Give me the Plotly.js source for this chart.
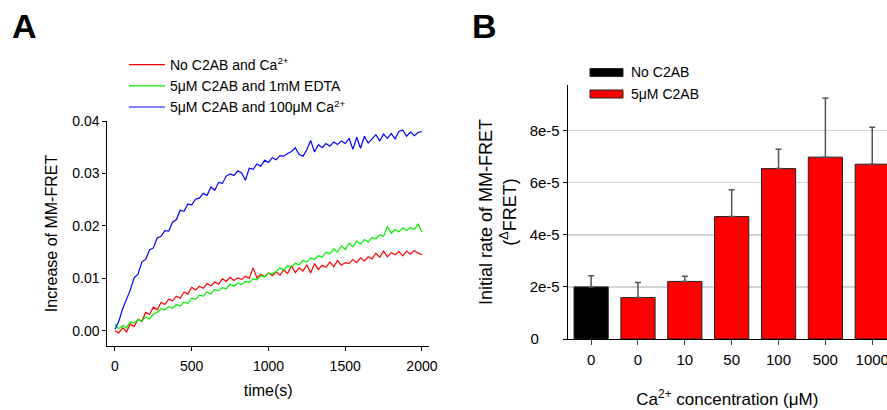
<!DOCTYPE html>
<html>
<head>
<meta charset="utf-8">
<script src="https://cdn.plot.ly/plotly-3.0.1.min.js"></script>
<style>html,body{margin:0;padding:0;background:#fff;}#chart{width:887px;height:410px;}</style>
</head>
<body>
<div id="chart"></div>
<script>
// ---------- Panel A: time courses ----------
const timeSec = [0,25,50,75,100,125,150,175,200,225,250,275,300,325,350,375,400,425,450,475,500,525,550,575,600,625,650,675,700,725,750,775,800,825,850,875,900,925,950,975,1000,1025,1050,1075,1100,1125,1150,1175,1200,1225,1250,1275,1300,1325,1350,1375,1400,1425,1450,1475,1500,1525,1550,1575,1600,1625,1650,1675,1700,1725,1750,1775,1800,1825,1850,1875,1900,1925,1950,1975,2000];

const noC2abNoCa = [0.0000,-0.0004,0.0006,-0.0002,0.0013,0.0008,0.0022,0.0018,0.0035,0.0031,0.0045,0.0040,0.0054,0.0050,0.0060,0.0057,0.0066,0.0062,0.0074,0.0070,0.0083,0.0078,0.0085,0.0081,0.0090,0.0086,0.0093,0.0089,0.0099,0.0094,0.0102,0.0096,0.0101,0.0098,0.0104,0.0100,0.0120,0.0101,0.0108,0.0103,0.0110,0.0105,0.0112,0.0106,0.0116,0.0109,0.0124,0.0111,0.0120,0.0114,0.0126,0.0110,0.0128,0.0117,0.0125,0.0121,0.0131,0.0122,0.0134,0.0125,0.0130,0.0128,0.0136,0.0130,0.0139,0.0133,0.0141,0.0137,0.0148,0.0140,0.0152,0.0141,0.0149,0.0145,0.0151,0.0143,0.0152,0.0146,0.0153,0.0148,0.0145];

const c2abEdta = [0.0012,0.0004,0.0010,0.0006,0.0017,0.0015,0.0021,0.0019,0.0026,0.0023,0.0032,0.0035,0.0042,0.0040,0.0046,0.0043,0.0050,0.0047,0.0055,0.0052,0.0062,0.0060,0.0068,0.0066,0.0074,0.0070,0.0079,0.0076,0.0082,0.0080,0.0089,0.0085,0.0091,0.0088,0.0094,0.0092,0.0099,0.0097,0.0105,0.0103,0.0110,0.0108,0.0113,0.0120,0.0116,0.0124,0.0121,0.0129,0.0126,0.0134,0.0131,0.0139,0.0136,0.0143,0.0140,0.0150,0.0147,0.0156,0.0150,0.0162,0.0155,0.0167,0.0160,0.0171,0.0165,0.0174,0.0169,0.0178,0.0175,0.0183,0.0180,0.0199,0.0186,0.0193,0.0189,0.0196,0.0191,0.0197,0.0193,0.0204,0.0188];

const c2abCa = [0.0003,0.0018,0.0042,0.0060,0.0078,0.0101,0.0108,0.0131,0.0136,0.0154,0.0158,0.0177,0.0180,0.0191,0.0190,0.0207,0.0212,0.0230,0.0228,0.0242,0.0240,0.0251,0.0253,0.0262,0.0258,0.0274,0.0268,0.0283,0.0281,0.0295,0.0299,0.0296,0.0305,0.0301,0.0287,0.0310,0.0308,0.0318,0.0314,0.0325,0.0321,0.0330,0.0326,0.0334,0.0333,0.0338,0.0342,0.0349,0.0336,0.0333,0.0345,0.0363,0.0341,0.0355,0.0349,0.0357,0.0352,0.0360,0.0355,0.0362,0.0357,0.0367,0.0346,0.0369,0.0348,0.0371,0.0358,0.0366,0.0374,0.0362,0.0375,0.0367,0.0376,0.0366,0.0380,0.0383,0.0371,0.0379,0.0372,0.0378,0.0380];

const seriesNamesA = ['No C2AB and Ca<sup>2+</sup>', '5\u03bcM C2AB and 1mM EDTA', '5\u03bcM C2AB and 100\u03bcM Ca<sup>2+</sup>'];
const xTicksA = [0, 500, 1000, 1500, 2000];
const yTicksA = [0, 0.01, 0.02, 0.03, 0.04];

// ---------- Panel B: initial rates ----------
const barPos = [0, 1, 2, 3, 4, 5, 6];
const concLabels = ['0', '0', '10', '50', '100', '500', '1000'];
const noC2abPos = [0];
const noC2abRate = [2.0e-5];
const noC2abErr = [0.43e-5];
const c2abPos = [1, 2, 3, 4, 5, 6];
const c2abRate = [1.59e-5, 2.21e-5, 4.70e-5, 6.54e-5, 6.98e-5, 6.71e-5];
const c2abErr = [0.58e-5, 0.20e-5, 1.03e-5, 0.74e-5, 2.27e-5, 1.42e-5];
const yTicksB = [0, 2e-5, 4e-5, 6e-5, 8e-5];
const yTickTextB = ['0\u00a0\u00a0\u00a0\u00a0\u00a0', '2e-5', '4e-5', '6e-5', '8e-5'];
const legendNamesB = ['No C2AB', '5\u03bcM C2AB'];

const FONT = '"Liberation Sans", Arial, Helvetica, sans-serif';
const W = 887, H = 410;
const px = v => v / W;
const py = v => 1 - v / H;

const traces = [
  {x: timeSec, y: noC2abNoCa, type: 'scatter', mode: 'lines', name: seriesNamesA[0], line: {color: '#ff0000', width: 1.2}, xaxis: 'x', yaxis: 'y'},
  {x: timeSec, y: c2abEdta, type: 'scatter', mode: 'lines', name: seriesNamesA[1], line: {color: '#00f000', width: 1.2}, xaxis: 'x', yaxis: 'y'},
  {x: timeSec, y: c2abCa, type: 'scatter', mode: 'lines', name: seriesNamesA[2], line: {color: '#0000ff', width: 1.2}, xaxis: 'x', yaxis: 'y'},
  {x: noC2abPos, y: noC2abRate, type: 'bar', name: legendNamesB[0], showlegend: false, width: 0.73,
   marker: {color: '#000000', line: {color: '#222', width: 1}},
   error_y: {type: 'data', symmetric: false, array: noC2abErr, arrayminus: [0], color: '#555', thickness: 1.5, width: 3},
   xaxis: 'x2', yaxis: 'y2'},
  {x: c2abPos, y: c2abRate, type: 'bar', name: legendNamesB[1], showlegend: false, width: 0.73,
   marker: {color: '#ff0000', line: {color: '#222', width: 1}},
   error_y: {type: 'data', symmetric: false, array: c2abErr, arrayminus: [0,0,0,0,0,0], color: '#555', thickness: 1.5, width: 3},
   xaxis: 'x2', yaxis: 'y2'}
];

const layout = {
  width: W, height: H,
  margin: {l: 0, r: 0, t: 0, b: 0},
  paper_bgcolor: '#fff', plot_bgcolor: 'rgba(0,0,0,0)',
  font: {family: FONT, size: 14, color: '#000'},
  barmode: 'overlay',
  showlegend: true,
  legend: {x: px(124), y: py(49), xanchor: 'left', yanchor: 'top', bgcolor: 'rgba(0,0,0,0)', font: {size: 14, family: FONT}, tracegroupgap: 0, itemwidth: 36},
  xaxis: {
    domain: [px(107.3), px(429)], range: [-50, 2046], anchor: 'y',
    tickvals: xTicksA, ticktext: xTicksA.map(String),
    ticks: 'outside', ticklen: 4, tickwidth: 1, tickcolor: '#000', ticklabelstandoff: 3,
    showline: true, linecolor: '#000', linewidth: 1, showgrid: false, zeroline: false,
    tickfont: {size: 14},
    title: {text: 'time(s)', font: {size: 16}, standoff: 12}
  },
  yaxis: {
    domain: [1 - 346 / H, 1 - 121 / H], range: [-0.0029, 0.04], anchor: 'x',
    tickvals: yTicksA, ticktext: yTicksA.map(v => v.toFixed(2)),
    ticks: 'outside', ticklen: 4, tickwidth: 1, tickcolor: '#000',
    showline: true, linecolor: '#000', linewidth: 1, showgrid: false, zeroline: false,
    tickfont: {size: 14},
    title: {text: 'Increase of MM-FRET', font: {size: 16}, standoff: 10}
  },
  xaxis2: {
    domain: [px(567.7), 1], range: [-0.5, 6.315], anchor: 'y2',
    tickvals: barPos, ticktext: concLabels, ticklabeloverflow: 'allow',
    ticks: 'outside', ticklen: 5, tickwidth: 1, tickcolor: '#444', ticklabelstandoff: 2,
    showline: true, linecolor: '#000', linewidth: 1, showgrid: false, zeroline: false,
    tickfont: {size: 15},
    title: {text: 'Ca<sup>2+</sup> concentration (\u03bcM)', font: {size: 17}, standoff: 26}
  },
  yaxis2: {
    domain: [1 - 339 / H, 1 - 85 / H], range: [0, 9.75e-5], anchor: 'x2',
    tickvals: yTicksB, ticktext: yTickTextB,
    ticks: 'outside', ticklen: 4, tickwidth: 1, tickcolor: '#000',
    showline: true, linecolor: '#000', linewidth: 1,
    showgrid: true, gridcolor: '#d4d4d4', gridwidth: 1.6, zeroline: false,
    tickfont: {size: 15},
    title: {text: 'Initial rate of MM-FRET<br>(<sup>\u0394</sup>FRET)', font: {size: 18}, standoff: 8}
  },
  shapes: [
    {type: 'rect', xref: 'paper', yref: 'paper', x0: px(590), x1: px(623), y0: py(76.5), y1: py(68.5), fillcolor: '#000', line: {color: '#222', width: 1}},
    {type: 'rect', xref: 'paper', yref: 'paper', x0: px(590), x1: px(623), y0: py(98), y1: py(90), fillcolor: '#ff0000', line: {color: '#222', width: 1}}
  ],
  annotations: [
    {text: '<b>A</b>', xref: 'paper', yref: 'paper', x: px(10), y: py(25.5), xanchor: 'left', yanchor: 'middle', showarrow: false, font: {size: 34, family: FONT}},
    {text: '<b>B</b>', xref: 'paper', yref: 'paper', x: px(470), y: py(25.5), xanchor: 'left', yanchor: 'middle', showarrow: false, font: {size: 34, family: FONT}},
    {text: legendNamesB[0], xref: 'paper', yref: 'paper', x: px(629), y: py(72.5), xanchor: 'left', yanchor: 'middle', showarrow: false, font: {size: 14, family: FONT}},
    {text: legendNamesB[1], xref: 'paper', yref: 'paper', x: px(629), y: py(94), xanchor: 'left', yanchor: 'middle', showarrow: false, font: {size: 14, family: FONT}}
  ]
};

Plotly.newPlot('chart', traces, layout, {displayModeBar: false, staticPlot: true});
</script>
</body>
</html>
